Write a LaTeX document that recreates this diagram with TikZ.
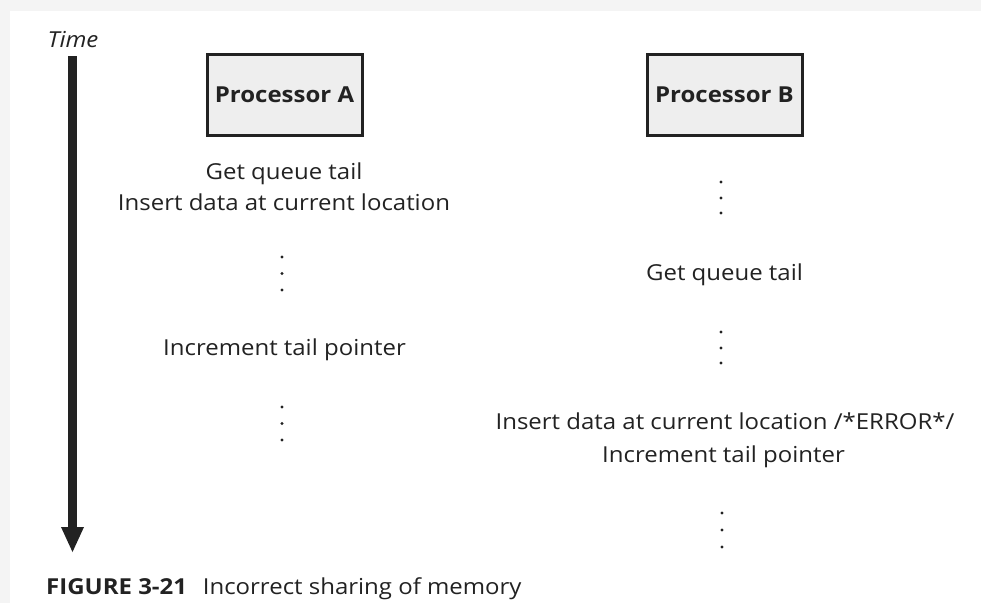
\documentclass[tikz,border=0pt]{standalone}
\usepackage{fontspec}
\setmainfont{Open Sans}[FakeStretch=1.09]
\definecolor{ink}{HTML}{222222}
\definecolor{boxfill}{HTML}{EEEEEE}
\definecolor{pagegray}{HTML}{F4F4F4}
\begin{document}
\begin{tikzpicture}[x=1pt,y=-1pt,
  txt/.style={inner sep=0pt,anchor=base,text=ink,font=\fontsize{22}{26}\selectfont},
  procbox/.style={draw=ink,line width=3pt,fill=boxfill,minimum width=155pt,minimum height=81pt,inner sep=0pt,text=ink,font=\fontsize{22}{28}\selectfont\bfseries},
  dot/.style={circle,fill=ink,inner sep=0pt,minimum size=3.4pt}]
\fill[pagegray] (0,0) rectangle (981,603);
\fill[white] (10,11) rectangle (981,603);
\useasboundingbox (0,0) rectangle (981,603);
% time axis
\node[txt,font=\fontsize{22}{28}\selectfont\itshape] (time) at (73,47) {Time};
\coordinate (ttop) at (72.5,56);
\coordinate (tend) at (72.5,527);
\coordinate (tip) at (72.5,552);
\draw[ink,line width=9pt] (ttop) -- (tend);
\fill[ink] ([xshift=-11.5pt]tend) -- ([xshift=11.5pt]tend) -- (tip) -- cycle;
% processors
\node[procbox] (pa) at (284.5,94.5) {Processor A};
\node[procbox] (pb) at (724.5,95) {Processor B};
% column A
\node[txt] (a1) at (284,179) {Get queue tail};
\node[txt] (a2) at (284,210) {Insert data at current location};
\node[dot] (ad1) at (282,257) {};
\node[dot] (ad2) at (282,273.5) {};
\node[dot] (ad3) at (282,290) {};
\node[txt] (a3) at (284.5,355) {Increment tail pointer};
\node[dot] (ad4) at (282,407) {};
\node[dot] (ad5) at (282,423.5) {};
\node[dot] (ad6) at (282,440) {};
% column B
\node[dot] (bd1) at (721,182) {};
\node[dot] (bd2) at (721,198) {};
\node[dot] (bd3) at (721,213) {};
\node[txt] (b1) at (724.5,280) {Get queue tail};
\node[dot] (bd4) at (721,332) {};
\node[dot] (bd5) at (721,348) {};
\node[dot] (bd6) at (721,363) {};
\node[txt] (b2) at (725,429) {Insert data at current location /*ERROR*/};
\node[txt] (b3) at (723.5,462) {Increment tail pointer};
\node[dot] (bd7) at (722,513) {};
\node[dot] (bd8) at (722,530) {};
\node[dot] (bd9) at (722,547) {};
% caption
\node[txt,anchor=base west] (cap) at (46,594) {\textbf{FIGURE 3-21}\hspace{0.72em}Incorrect sharing of memory};
\end{tikzpicture}
\end{document}
